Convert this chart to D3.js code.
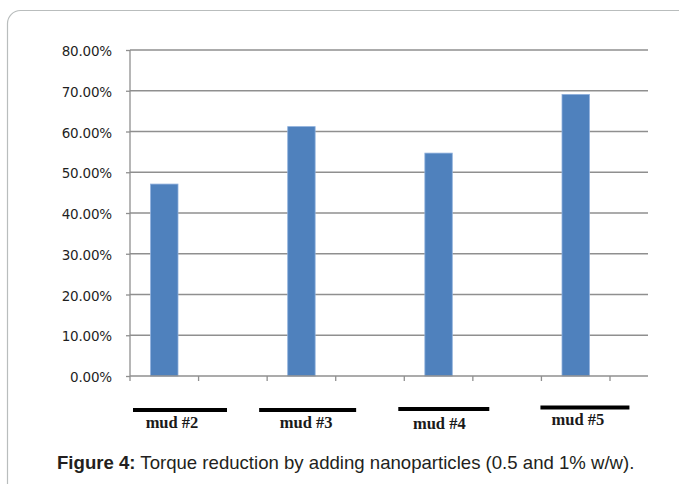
<!DOCTYPE html>
<html>
<head>
<meta charset="utf-8">
<script src="https://cdn.jsdelivr.net/npm/d3@7"></script>
<style>
  html, body { margin: 0; padding: 0; background: #fff; }
  svg { display: block; }
</style>
</head>
<body>
<svg id="chart" width="679" height="484"></svg>
<script>
// Torque reduction per mud sample (fraction), one bar per mud
const muds = ["mud #2", "mud #3", "mud #4", "mud #5"];
const reduction = [0.471, 0.612, 0.547, 0.691];
// each mud occupies two category slots on the axis; only the first holds a bar
const slots = ["2a", "2b", "3a", "3b", "4a", "4b", "5a", "5b"];
const yTicks = [0, 0.1, 0.2, 0.3, 0.4, 0.5, 0.6, 0.7, 0.8];
const captionBold = "Figure 4:";
const captionText = " Torque reduction by adding nanoparticles (0.5 and 1% w/w).";

// hand-drawn underline bars beneath each mud name: offset from band start, length, vertical nudge
const underline = [
  { dx: 3, len: 94, dy: 1 },
  { dx: -8, len: 97, dy: 1 },
  { dx: -6, len: 91, dy: 0 },
  { dx: -1, len: 89, dy: -1.5 }
];
const labelShift = [
  { dx: -8, dy: 0 },
  { dx: -1.5, dy: 0 },
  { dx: -4.5, dy: 0.5 },
  { dx: -7, dy: -3 }
];

const svg = d3.select("#chart");

// outer frame with rounded corners
svg.append("rect")
  .attr("x", 7.5).attr("y", 10.5)
  .attr("width", 684).attr("height", 500)
  .attr("rx", 13).attr("ry", 13)
  .attr("fill", "none")
  .attr("stroke", "#b9bdbd")
  .attr("stroke-width", 1.2);

const plot = { left: 130, right: 648, top: 50, bottom: 376 };
const slotW = (610 - plot.left) / 7;

const x = d3.scaleBand()
  .domain(slots)
  .range([plot.left, plot.left + slotW * slots.length]);
const mudBand = d3.scaleBand()
  .domain(muds)
  .range([plot.left, plot.left + slotW * slots.length]);
const y = d3.scaleLinear().domain([0, 0.8]).range([plot.bottom, plot.top]);

const gridColor = "#8f8f8f";

// horizontal gridlines
svg.append("g")
  .selectAll("line")
  .data(yTicks.slice(1))
  .join("line")
  .attr("x1", plot.left).attr("x2", plot.right)
  .attr("y1", d => y(d)).attr("y2", d => y(d))
  .attr("stroke", gridColor)
  .attr("stroke-width", 1.3);

// bars
const barW = x.bandwidth() * 0.4;
svg.append("g")
  .selectAll("rect")
  .data(muds.map((m, i) => ({ mud: m, slot: slots[i * 2], v: reduction[i] })))
  .join("rect")
  .attr("x", d => x(d.slot) + (x.bandwidth() - barW) / 2)
  .attr("y", d => y(d.v))
  .attr("width", barW)
  .attr("height", d => y(0) - y(d.v))
  .attr("fill", "#4f81bd")
  .attr("stroke", "#8fb0dc")
  .attr("stroke-width", 0.8);

// y axis
const yAxis = svg.append("g")
  .attr("transform", `translate(${plot.left},0)`)
  .call(d3.axisLeft(y)
    .tickValues(yTicks)
    .tickFormat(d3.format(".2%"))
    .tickSize(4)
    .tickPadding(14)
    .tickSizeOuter(0));
yAxis.select(".domain")
  .attr("d", `M0,${y(0.8)}V${plot.bottom + 5}`)
  .attr("stroke", gridColor).attr("stroke-width", 1.3);
yAxis.selectAll(".tick line").attr("stroke", gridColor).attr("stroke-width", 1.3);
yAxis.selectAll(".tick text")
  .attr("fill", "#1f1f1f")
  .attr("dy", "0.42em")
  .style("font-family", "'DejaVu Sans', Verdana, sans-serif")
  .style("font-size", "13.5px")
  .style("letter-spacing", "-0.2px");

// x axis: ticks at slot boundaries
const xAxis = svg.append("g")
  .attr("transform", `translate(0,${plot.bottom})`)
  .call(d3.axisBottom(x).tickSize(0).tickFormat(""));
xAxis.select(".domain")
  .attr("d", `M${plot.left},0H${plot.right}`)
  .attr("stroke", gridColor).attr("stroke-width", 1.3);
xAxis.selectAll(".tick").remove();
xAxis.selectAll("line.slot")
  .data(slots.slice(1))
  .join("line")
  .attr("class", "slot")
  .attr("x1", d => x(d)).attr("x2", d => x(d))
  .attr("y1", 0).attr("y2", 5)
  .attr("stroke", gridColor).attr("stroke-width", 1.3);

// mud names with their underline bars
const labels = svg.append("g");
muds.forEach((m, i) => {
  const b0 = mudBand(m);
  const u = underline[i];
  labels.append("line")
    .attr("x1", b0 + u.dx).attr("x2", b0 + u.dx + u.len)
    .attr("y1", 409 + u.dy).attr("y2", 409 + u.dy)
    .attr("stroke", "#000").attr("stroke-width", 4);
  labels.append("text")
    .attr("x", b0 + u.dx + u.len / 2 + labelShift[i].dx)
    .attr("y", 428 + labelShift[i].dy)
    .attr("text-anchor", "middle")
    .attr("fill", "#1a1a1a")
    .style("font-family", "'Liberation Serif', 'Times New Roman', serif")
    .style("font-weight", "bold")
    .style("font-size", "16.5px")
    .text(m);
});

// caption
const cap = svg.append("text")
  .attr("x", 57)
  .attr("y", 469)
  .attr("fill", "#231f20")
  .style("font-family", "'Liberation Sans', Arial, sans-serif")
  .style("font-size", "18.6px");
cap.append("tspan").style("font-weight", "bold").text(captionBold);
cap.append("tspan").text(captionText);
</script>
</body>
</html>
